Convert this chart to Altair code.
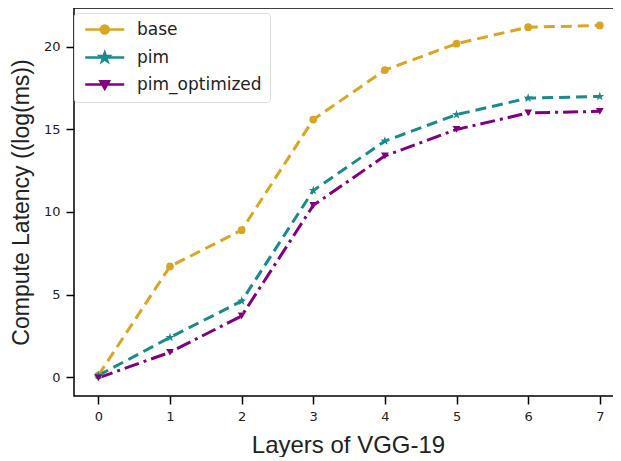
import altair as alt
import pandas as pd

layers = [0, 1, 2, 3, 4, 5, 6, 7]
base_vals = [0.1, 6.7, 8.9, 15.6, 18.6, 20.2, 21.2, 21.3]
pim_vals = [0.1, 2.4, 4.6, 11.3, 14.3, 15.9, 16.9, 17.0]
pim_opt_vals = [-0.05, 1.5, 3.7, 10.4, 13.4, 15.0, 16.0, 16.1]
series_names = ["base", "pim", "pim_optimized"]
colors = ["#DAA520", "#1A8A8A", "#800080"]
dashes = [[11, 6], [11, 6], [15, 5, 3, 5]]

STAR = ("M0,-1L0.235,-0.324L0.951,-0.309L0.380,0.124L0.588,0.809L0,0.4"
        "L-0.588,0.809L-0.380,0.124L-0.951,-0.309L-0.235,-0.324Z")
shapes = ["circle", STAR, "triangle-down"]
marker_sizes = [60, 90, 60]

LEG_BASE = "M-1,0H6.4M3.45,0A0.75,0.75,0,1,1,1.95,0A0.75,0.75,0,1,1,3.45,0Z"
LEG_PIM = ("M-1,0H6.4M2.7,-0.9L2.912,-0.292L3.556,-0.278L3.042,0.112L3.229,0.728"
           "L2.7,0.36L2.171,0.728L2.358,0.112L1.844,-0.278L2.489,-0.292Z")
LEG_OPT = "M-1,0H6.4M1.9,-0.6L3.5,-0.6L2.7,0.8Z"

rows = []
for name, vals in zip(series_names, [base_vals, pim_vals, pim_opt_vals]):
    for x, y in zip(layers, vals):
        rows.append({"layer": x, "latency": y, "series": name})
df = pd.DataFrame(rows)

shape_expr = (
    f"datum.value === 'base' ? '{LEG_BASE}' : "
    f"datum.value === 'pim' ? '{LEG_PIM}' : '{LEG_OPT}'"
)

x_enc = alt.X("layer:Q", scale=alt.Scale(domain=[-0.34, 7.31], nice=False, zero=False),
              axis=alt.Axis(values=layers, title="Layers of VGG-19", format="d",
                            titleFontSize=24))
y_enc = alt.Y("latency:Q", scale=alt.Scale(domain=[-1.15, 22.36], nice=False, zero=False),
              axis=alt.Axis(values=[0, 5, 10, 15, 20], title="Compute Latency ((log(ms))",
                            titleFontSize=23))

color_scale = alt.Scale(domain=series_names, range=colors)

# legend carrier: one point per series, so the line itself draws nothing
legend_layer = alt.Chart(df).transform_filter(alt.datum.layer == 0).mark_line(strokeWidth=3).encode(
    x=x_enc, y=y_enc,
    color=alt.Color("series:N", scale=color_scale, title=None,
                    legend=alt.Legend(
                        orient="none", legendX=0, legendY=5,
                        padding=8, symbolSize=111, symbolStrokeWidth=2.5,
                        labelOffset=38, rowPadding=8, labelFontSize=17,
                        labelFont="DejaVu Sans", labelColor="#222",
                        fillColor="white", strokeColor="#dddddd", cornerRadius=3,
                        symbolType=alt.ExprRef(expr=shape_expr),
                        symbolFillColor=alt.ExprRef(expr="scale('color', datum.value)"),
                    )),
)

line_layers = [
    alt.Chart(df).transform_filter(alt.datum.series == name)
    .mark_line(strokeWidth=3, strokeDash=dash, stroke=col)
    .encode(x=x_enc, y=y_enc)
    for name, dash, col in zip(series_names, dashes, colors)
]

point_layers = [
    alt.Chart(df).transform_filter(alt.datum.series == name)
    .mark_point(filled=True, opacity=1, size=sz, strokeWidth=0, shape=shp, fill=col)
    .encode(x=x_enc, y=y_enc)
    for name, shp, col, sz in zip(series_names, shapes, colors, marker_sizes)
]

chart = alt.layer(legend_layer, *line_layers, *point_layers).properties(
    width=548, height=388,
    padding={"left": 2, "top": 0, "right": -9, "bottom": 0},
).configure_view(
    stroke="black", strokeWidth=1.5
).configure_axis(
    domain=False, grid=False, ticks=True, tickColor="black", tickWidth=1.5, tickSize=8,
    labelFont="DejaVu Sans", labelFontSize=13, labelColor="#222", labelPadding=6,
    titleFont="Liberation Sans", titleFontWeight="normal", titleColor="#222",
).configure_axisX(titlePadding=10).configure_axisY(titlePadding=10)

chart.save("out.html", embed_options={"renderer": "svg", "actions": False})
